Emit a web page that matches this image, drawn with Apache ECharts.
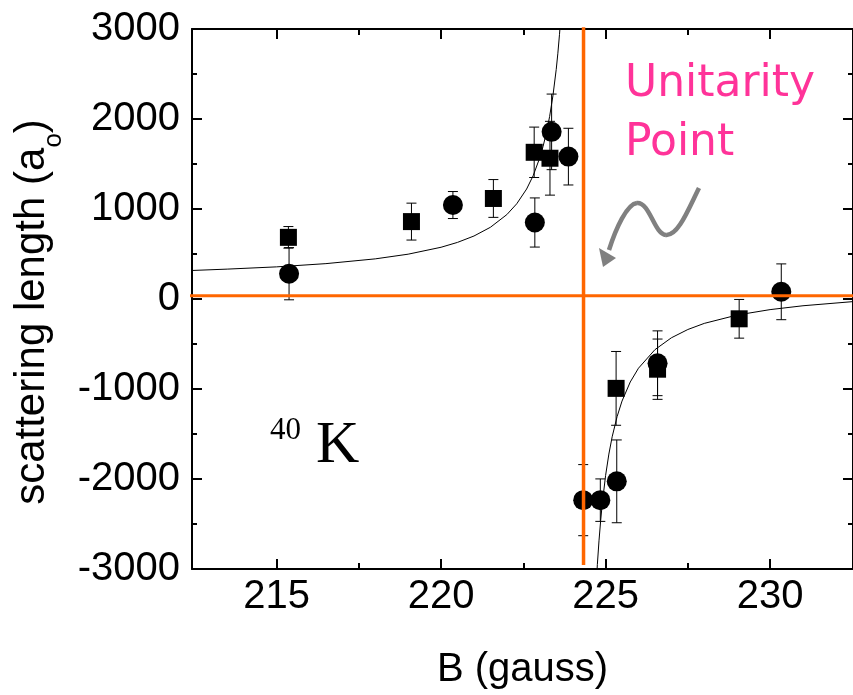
<!DOCTYPE html>
<html>
<head>
<meta charset="utf-8">
<script src="https://cdn.jsdelivr.net/npm/echarts@6/dist/echarts.min.js"></script>
<style>
  html, body { margin: 0; padding: 0; background: #fff; }
  #chart { width: 853px; height: 695px; }
</style>
</head>
<body>
<div id="chart"></div>
<script>
// x range (gauss) and ticks
const xMin = 212.43;
const xMax = 232.52;
const majorB = [215, 220, 225, 230];
const minorB = [217.5, 222.5, 227.5];

// squares: field, scattering length, error
const squareB = [215.36, 219.1, 221.59, 222.83, 223.31, 225.32, 226.58, 229.06];
const squareA = [685, 860, 1117, 1630, 1564, -993, -780, -220];
const squareErr = [120, 205, 210, 280, 410, 410, 335, 215];

// circles
const circleB = [215.38, 220.36, 222.85, 223.36, 223.87, 224.32, 224.84, 225.34, 226.58, 230.34];
const circleA = [281, 1044, 850, 1857, 1582, -2235, -2235, -2026, -714, 80];
const circleErr = [290, 150, 273, 420, 315, 395, 236, 460, 360, 310];

// fit curve (below / above resonance)
const fitLowB = [212.43, 213.5, 215, 216.5, 218, 219, 220, 220.5, 221, 221.5, 222, 222.3, 222.6, 222.8, 223.0, 223.1, 223.2, 223.3, 223.4, 223.5, 223.55, 223.6, 223.65];
const fitLowA = [317, 332, 357, 393, 446, 498, 575, 629, 700, 797, 938, 1058, 1222, 1371, 1569, 1695, 1845, 2029, 2258, 2551, 2731, 2941, 3188];
const fitHighB = [224.7, 224.75, 224.8, 224.85, 224.9, 225.0, 225.1, 225.2, 225.35, 225.5, 225.75, 226.0, 226.5, 227, 227.5, 228, 229, 230, 231, 232.52];
const fitHighA = [-3271, -2951, -2687, -2463, -2272, -1963, -1723, -1531, -1307, -1134, -922, -769, -563, -431, -339, -271, -178, -118, -75, -29];

// orange guide lines
const unitarityB = 224.33;
const zeroLineA = 36;

const zip = (xs, ys) => xs.map((x, i) => [x, ys[i]]);
const zip3 = (xs, ys, es) => xs.map((x, i) => [x, ys[i], es[i]]);

const sans = 'Liberation Sans, Arial, sans-serif';
const tickFont = { fontFamily: sans, fontSize: 40, color: '#000' };
const black = { color: '#000', width: 2 };

function xAx(pos, ticks, len, labels) {
    return {
        type: 'value', position: pos, min: xMin, max: xMax,
        axisLine: { show: len === 10, onZero: false, lineStyle: black },
        axisTick: { inside: true, length: len, customValues: ticks, lineStyle: black },
        axisLabel: labels ? Object.assign({ customValues: ticks, margin: 8, formatter: v => String(v) }, tickFont) : { show: false },
        splitLine: { show: false }
    };
}

function yAx(pos, labels) {
    return {
        type: 'value', position: pos, min: -3000, max: 3000, interval: 1000,
        axisLine: { show: true, onZero: false, lineStyle: black },
        axisTick: { inside: true, length: 10, lineStyle: black },
        minorTick: { show: true, splitNumber: 2, length: 5, lineStyle: black },
        axisLabel: labels ? Object.assign({ margin: 12, showMinLabel: true, showMaxLabel: true, formatter: v => String(v) }, tickFont) : { show: false },
        splitLine: { show: false },
        minorSplitLine: { show: false }
    };
}

function errorBars(params, api) {
    const x = api.value(0), y = api.value(1), e = api.value(2);
    const top = api.coord([x, y + e]);
    const bot = api.coord([x, y - e]);
    const st = { stroke: '#000', lineWidth: 1 };
    return {
        type: 'group',
        children: [
            { type: 'line', shape: { x1: top[0], y1: top[1], x2: bot[0], y2: bot[1] }, style: st },
            { type: 'line', shape: { x1: top[0] - 5, y1: top[1], x2: top[0] + 5, y2: top[1] }, style: st },
            { type: 'line', shape: { x1: bot[0] - 5, y1: bot[1], x2: bot[0] + 5, y2: bot[1] }, style: st }
        ]
    };
}

const chart = echarts.init(document.getElementById('chart'));

const yAxes = [yAx('left', true), yAx('right', false)];
yAxes[0].name = '{a|scattering length (a}{s|o}{a|)}';
yAxes[0].nameLocation = 'middle';
yAxes[0].nameRotate = 90;
yAxes[0].nameGap = 128;
yAxes[0].nameTextStyle = {
    padding: [0, 26, 0, 0],
    rich: {
        a: { fontFamily: sans, fontSize: 42, color: '#000', lineHeight: 48 },
        s: { fontFamily: sans, fontSize: 26, color: '#000', lineHeight: 48, verticalAlign: 'bottom', padding: [0, 0, -10, 0] }
    }
};

const xAxes = [xAx('bottom', majorB, 10, true), xAx('bottom', minorB, 6, false), xAx('top', majorB, 10, false), xAx('top', minorB, 6, false)];
xAxes[0].name = 'B (gauss)';
xAxes[0].nameLocation = 'middle';
xAxes[0].nameGap = 81;
xAxes[0].nameTextStyle = { fontFamily: sans, fontSize: 40, color: '#000' };

const arrowStyle = { stroke: '#808080', lineWidth: 4.5, fill: null };

chart.setOption({
    animation: false,
    backgroundColor: '#fff',
    grid: { left: 192, right: -6, top: 29, bottom: 120, containLabel: false },
    xAxis: xAxes,
    yAxis: yAxes,
    series: [
        {
            type: 'line', data: zip(fitLowB, fitLowA), showSymbol: false, symbol: 'none',
            lineStyle: { color: '#000', width: 1 }, clip: true, z: 2
        },
        {
            type: 'line', data: zip(fitHighB, fitHighA), showSymbol: false, symbol: 'none',
            lineStyle: { color: '#000', width: 1 }, clip: true, z: 2
        },
        { type: 'custom', renderItem: errorBars, data: zip3(squareB, squareA, squareErr), encode: { x: 0, y: 1 }, z: 3 },
        { type: 'custom', renderItem: errorBars, data: zip3(circleB, circleA, circleErr), encode: { x: 0, y: 1 }, z: 3 },
        { type: 'scatter', symbol: 'rect', symbolSize: 17, data: zip(squareB, squareA), itemStyle: { color: '#000', opacity: 1 }, z: 4 },
        { type: 'scatter', symbol: 'circle', symbolSize: 20, data: zip(circleB, circleA), itemStyle: { color: '#000', opacity: 1 }, z: 4 },
        {
            type: 'line', data: [[212.3, zeroLineA], [xMax, zeroLineA]], symbol: 'none', clip: false,
            lineStyle: { color: '#FF6600', width: 3 }, z: 6
        },
        {
            type: 'line', data: [[unitarityB, 3020], [unitarityB, -2955]], symbol: 'none', clip: false,
            lineStyle: { color: '#FF6600', width: 3.5 }, z: 6
        }
    ],
    graphic: [
        { type: 'text', x: 625, y: 63, style: { text: 'Unitarity', font: '44px "DejaVu Sans"', fill: '#FF3399' } },
        { type: 'text', x: 625, y: 122, style: { text: 'Point', font: '44px "DejaVu Sans"', fill: '#FF3399' } },
        { type: 'text', x: 270, y: 415, style: { text: '40', font: '31px "Liberation Serif"', fill: '#000' } },
        { type: 'text', x: 316, y: 416, style: { text: 'K', font: '60px "Liberation Serif"', fill: '#000' } },
        { type: 'bezierCurve', z: 10, shape: { x1: 699, y1: 188, cpx1: 688, cpy1: 210, cpx2: 678, cpy2: 236, x2: 666, y2: 235 }, style: arrowStyle },
        { type: 'bezierCurve', z: 10, shape: { x1: 666, y1: 235, cpx1: 654, cpy1: 234, cpx2: 650, cpy2: 202, x2: 637, y2: 203 }, style: arrowStyle },
        { type: 'bezierCurve', z: 10, shape: { x1: 637, y1: 203, cpx1: 627, cpy1: 204, cpx2: 616, cpy2: 228, x2: 609, y2: 250 }, style: arrowStyle },
        { type: 'polygon', z: 10, shape: { points: [[603, 267], [599, 248], [616, 258]] }, style: { fill: '#808080' } }
    ]
});
</script>
</body>
</html>
